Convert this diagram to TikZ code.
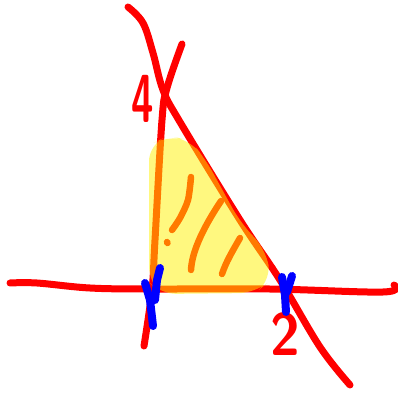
\documentclass[tikz,border=0pt]{standalone}
\usepackage{xcolor}
\usepackage{tikz}
\usetikzlibrary{calc}
\tikzset{
    pennarello/.style={red, line width=7pt, line cap=round, line join=round},
    evidenziatore/.style={yellow, opacity=0.5},
    tratteggio/.style={red, line width=6.5pt, line cap=round},
    segno/.style={blue, line width=8pt, line cap=round, line join=round},
    cifra/.style={red, inner sep=0pt, font=\sffamily\bfseries}
}
\begin{document}
\begin{tikzpicture}[x=1pt, y=-1pt]
    \useasboundingbox (0,0) rectangle (398,393);

    % Rette (a mano libera)
    \draw[pennarello] plot[smooth, tension=0.6] coordinates {(10,283) (37,283) (90,288) (150,289) (270,289) (383,292) (394,285)};
    \draw[pennarello] plot[smooth, tension=0.6] coordinates {(182,44) (167,88) (162,120) (155,240) (152,290) (144,346)};
    \draw[pennarello] plot[smooth, tension=0.6] coordinates {(128,7) (143,23) (153,53) (163,90) (180,122) (240,220) (280,280) (320,347) (350,385)};

    % Intercette
    \node[cifra, font=\fontsize{68}{68}\selectfont\sffamily\bfseries] (quattro) at (143,99) {\scalebox{0.6}[1]{4}};
    \node[cifra, font=\fontsize{60}{60}\selectfont\sffamily\bfseries] (due) at (285,334) {\scalebox{0.9}[1]{2}};

    % Tratteggio della regione
    \draw[tratteggio] plot[smooth] coordinates {(191,177) (188,200) (180,218) (172,230)};
    \draw[tratteggio] (167,242) -- (167.5,243);
    \draw[tratteggio] (221,201) .. controls (205,225) and (192,250) .. (191,270);
    \draw[tratteggio] (240,238) .. controls (232,252) and (226,262) .. (222,274);

    % Regione evidenziata
    \fill[evidenziatore, rounded corners=16pt] (149,145) -- (168,136) -- (190,140) -- (206,160) -- (240,222) -- (266,250) -- (271,280) -- (255,293) -- (160,294) -- (149,282) -- cycle;

    % Segni sull'asse
    \draw[segno] (160,268) -- (157,280) -- (155,300);
    \draw[segno] (145,283) -- (150,300) -- (153,326);
    \draw[segno] (282,277) -- (285,295) -- (286,312);
    \draw[segno] (292,276) -- (287,292);
\end{tikzpicture}
\end{document}
